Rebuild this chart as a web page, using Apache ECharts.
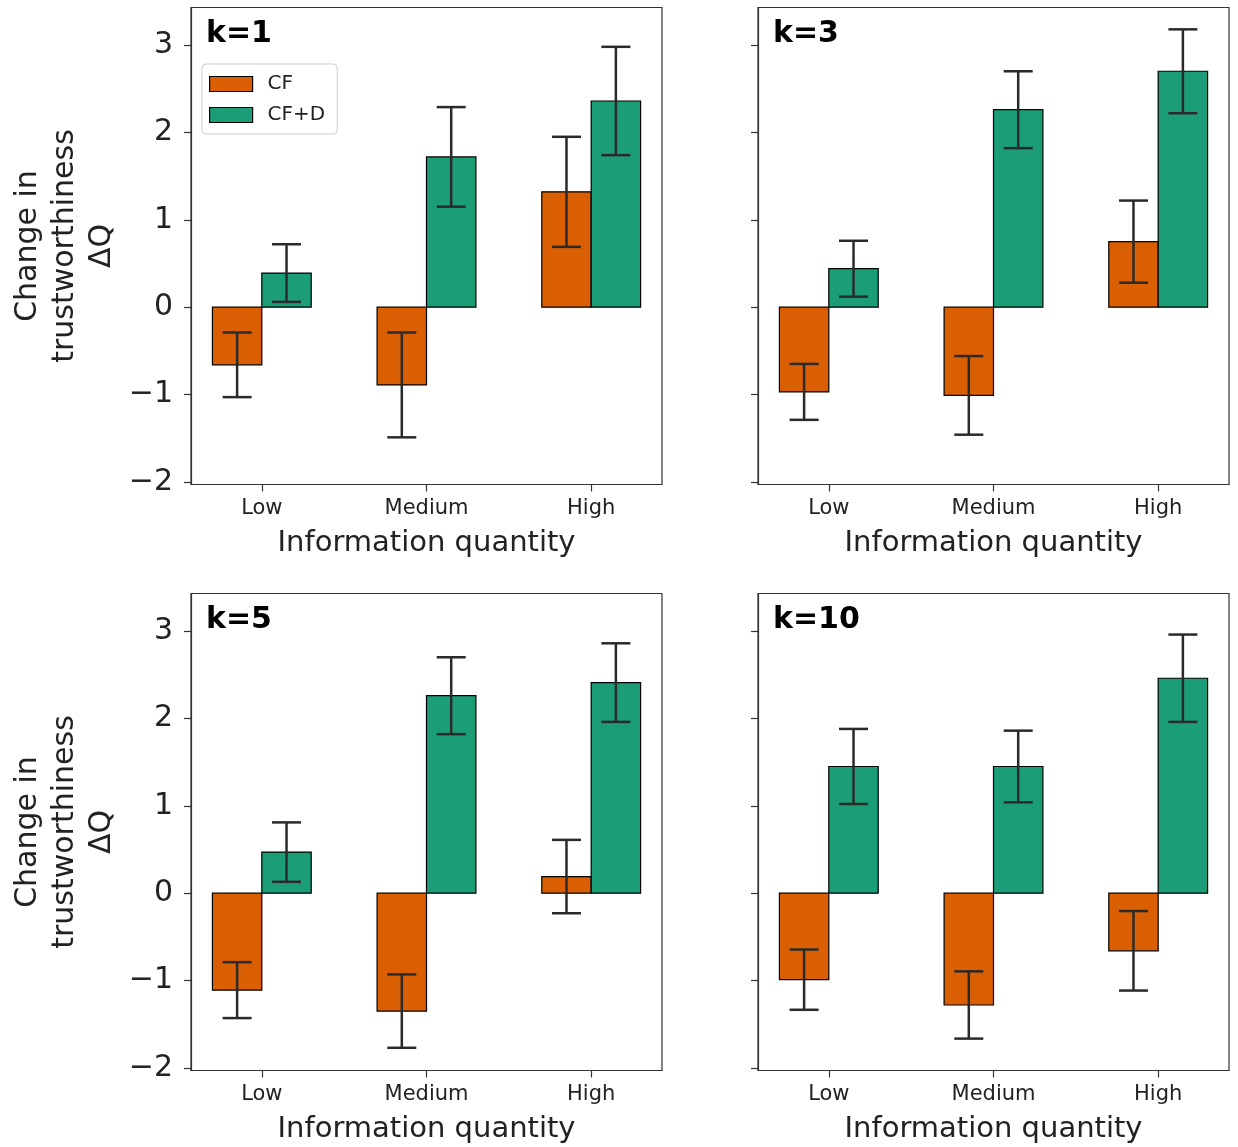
<!DOCTYPE html>
<html><head><meta charset="utf-8">
<script src="https://cdn.jsdelivr.net/npm/echarts@6/dist/echarts.min.js"></script>
<style>html,body{margin:0;padding:0;background:#fff}#c{width:1238px;height:1147px}</style>
</head><body><div id="c"></div>
<script>
// ---------- data ----------
const categories = ['Low', 'Medium', 'High'];
const panelTitles = ['k=1', 'k=3', 'k=5', 'k=10'];
const seriesNames = ['CF', 'CF+D'];
const yTicks = [-2, -1, 0, 1, 2, 3];

const cf_k1 = [-0.66, -0.89, 1.32];
const cf_k1_err = [0.37, 0.60, 0.63];
const cfd_k1 = [0.39, 1.72, 2.36];
const cfd_k1_err = [0.33, 0.57, 0.62];

const cf_k3 = [-0.97, -1.01, 0.75];
const cf_k3_err = [0.32, 0.45, 0.47];
const cfd_k3 = [0.44, 2.26, 2.70];
const cfd_k3_err = [0.32, 0.44, 0.48];

const cf_k5 = [-1.11, -1.35, 0.19];
const cf_k5_err = [0.32, 0.42, 0.42];
const cfd_k5 = [0.47, 2.26, 2.41];
const cfd_k5_err = [0.34, 0.44, 0.45];

const cf_k10 = [-0.99, -1.28, -0.66];
const cf_k10_err = [0.345, 0.385, 0.455];
const cfd_k10 = [1.45, 1.45, 2.46];
const cfd_k10_err = [0.43, 0.41, 0.50];

// ---------- layout / style ----------
const panelData = [
  [cf_k1, cf_k1_err, cfd_k1, cfd_k1_err],
  [cf_k3, cf_k3_err, cfd_k3, cfd_k3_err],
  [cf_k5, cf_k5_err, cfd_k5, cfd_k5_err],
  [cf_k10, cf_k10_err, cfd_k10, cfd_k10_err]
];
const grids = [
  {left: 191, top: 7.5, width: 471, height: 477},
  {left: 758, top: 7.5, width: 471, height: 477},
  {left: 191, top: 593.5, width: 471, height: 477},
  {left: 758, top: 593.5, width: 471, height: 477}
];
const COLORS = ['#d95f02', '#1b9e77'];
const BAR_W = 0.3;
const ERR_COLOR = '#2a2a2a';
const CAP = 14.5;
const FONT = '"DejaVu Sans", sans-serif';
const TXT = '#222';

function barRenderer(start, color) {
  return function (params, api) {
    const x = api.value(0), v = api.value(1);
    const p0 = api.coord([x + start, 0]);
    const p1 = api.coord([x + start + BAR_W, v]);
    return {
      type: 'rect',
      shape: {x: Math.min(p0[0], p1[0]), y: Math.min(p0[1], p1[1]),
              width: Math.abs(p1[0] - p0[0]), height: Math.abs(p1[1] - p0[1])},
      style: {fill: color, stroke: '#000', lineWidth: 1.2}
    };
  };
}
function errRenderer(offset) {
  return function (params, api) {
    const x = api.value(0) + offset, v = api.value(1), e = api.value(2);
    const t = api.coord([x, v + e]), b = api.coord([x, v - e]);
    const st = {stroke: ERR_COLOR, lineWidth: 2.5};
    return {type: 'group', children: [
      {type: 'line', shape: {x1: t[0], y1: t[1], x2: b[0], y2: b[1]}, style: st},
      {type: 'line', shape: {x1: t[0] - CAP, y1: t[1], x2: t[0] + CAP, y2: t[1]}, style: st},
      {type: 'line', shape: {x1: b[0] - CAP, y1: b[1], x2: b[0] + CAP, y2: b[1]}, style: st}
    ]};
  };
}

const xAxes = [], yAxes = [], series = [], graphics = [];
grids.forEach((g, i) => {
  xAxes.push({
    type: 'value', gridIndex: i, min: -0.43, max: 2.43,
    axisLine: {show: true, onZero: false, lineStyle: {color: '#333', width: 1.2}},
    axisTick: {show: true, length: 7, customValues: [0, 1, 2], lineStyle: {color: '#333', width: 1.2}},
    axisLabel: {show: true, customValues: [0, 1, 2], margin: 14,
      formatter: v => categories[Math.round(v)] || '',
      fontSize: 21, fontFamily: FONT, color: TXT},
    splitLine: {show: false},
    name: 'Information quantity', nameLocation: 'middle', nameGap: 44,
    nameTextStyle: {fontSize: 29, fontFamily: FONT, color: TXT}
  });
  yAxes.push({
    type: 'value', gridIndex: i, min: -2.03, max: 3.43,
    axisLine: {show: true, onZero: false, lineStyle: {color: '#333', width: 1.2}},
    axisTick: {show: true, length: 7, customValues: yTicks, lineStyle: {color: '#333', width: 1.2}},
    axisLabel: {show: i % 2 === 0, customValues: yTicks, margin: 18,
      formatter: v => (v < 0 ? '\u2212' + Math.abs(v) : String(v)),
      fontSize: 30, fontFamily: FONT, color: TXT},
    splitLine: {show: false}
  });
  const d = panelData[i];
  [0, 1].forEach(s => {
    const vals = d[s * 2], errs = d[s * 2 + 1];
    const data = categories.map((c, j) => [j, vals[j], errs[j]]);
    series.push({
      type: 'custom', name: seriesNames[s], xAxisIndex: i, yAxisIndex: i,
      itemStyle: {color: COLORS[s], borderColor: '#000', borderWidth: 1},
      renderItem: barRenderer(s === 0 ? -BAR_W : 0, COLORS[s]),
      data: data, z: 2
    });
    series.push({
      type: 'custom', xAxisIndex: i, yAxisIndex: i,
      renderItem: errRenderer(s === 0 ? -BAR_W / 2 : BAR_W / 2),
      data: data, z: 5, silent: true
    });
  });
  graphics.push({
    type: 'text', left: g.left + 15, top: g.top + 12,
    style: {text: panelTitles[i], font: 'bold 30px ' + FONT, fill: '#000'}
  });
  if (i % 2 === 0) {
    graphics.push({
      type: 'text', x: 65, y: g.top + g.height / 2, rotation: Math.PI / 2,
      style: {text: 'Change in\ntrustworthiness\n\u0394Q', font: '30px ' + FONT,
        align: 'center', verticalAlign: 'middle', lineHeight: 37, fill: TXT}
    });
  }
});

const chart = echarts.init(document.getElementById('c'), null, {renderer: 'canvas'});
chart.setOption({
  animation: false,
  backgroundColor: '#fff',
  grid: grids.map(g => Object.assign({show: true, borderColor: '#333', borderWidth: 1.2,
    backgroundColor: 'transparent'}, g)),
  xAxis: xAxes,
  yAxis: yAxes,
  legend: {
    left: 202, top: 64, orient: 'vertical', selectedMode: false,
    data: [
      {name: 'CF', icon: 'rect', itemStyle: {color: COLORS[0], borderColor: '#000', borderWidth: 1.2}},
      {name: 'CF+D', icon: 'rect', itemStyle: {color: COLORS[1], borderColor: '#000', borderWidth: 1.2}}
    ],
    itemWidth: 43, itemHeight: 15, itemGap: 11,
    padding: [10, 12, 9, 7],
    borderColor: '#ccc', borderWidth: 1, borderRadius: 4,
    backgroundColor: 'rgba(255,255,255,0.85)',
    textStyle: {fontSize: 20, fontFamily: FONT, color: TXT, padding: [0, 0, 0, 10]}
  },
  graphic: graphics,
  series: series
});
</script>
</body></html>
